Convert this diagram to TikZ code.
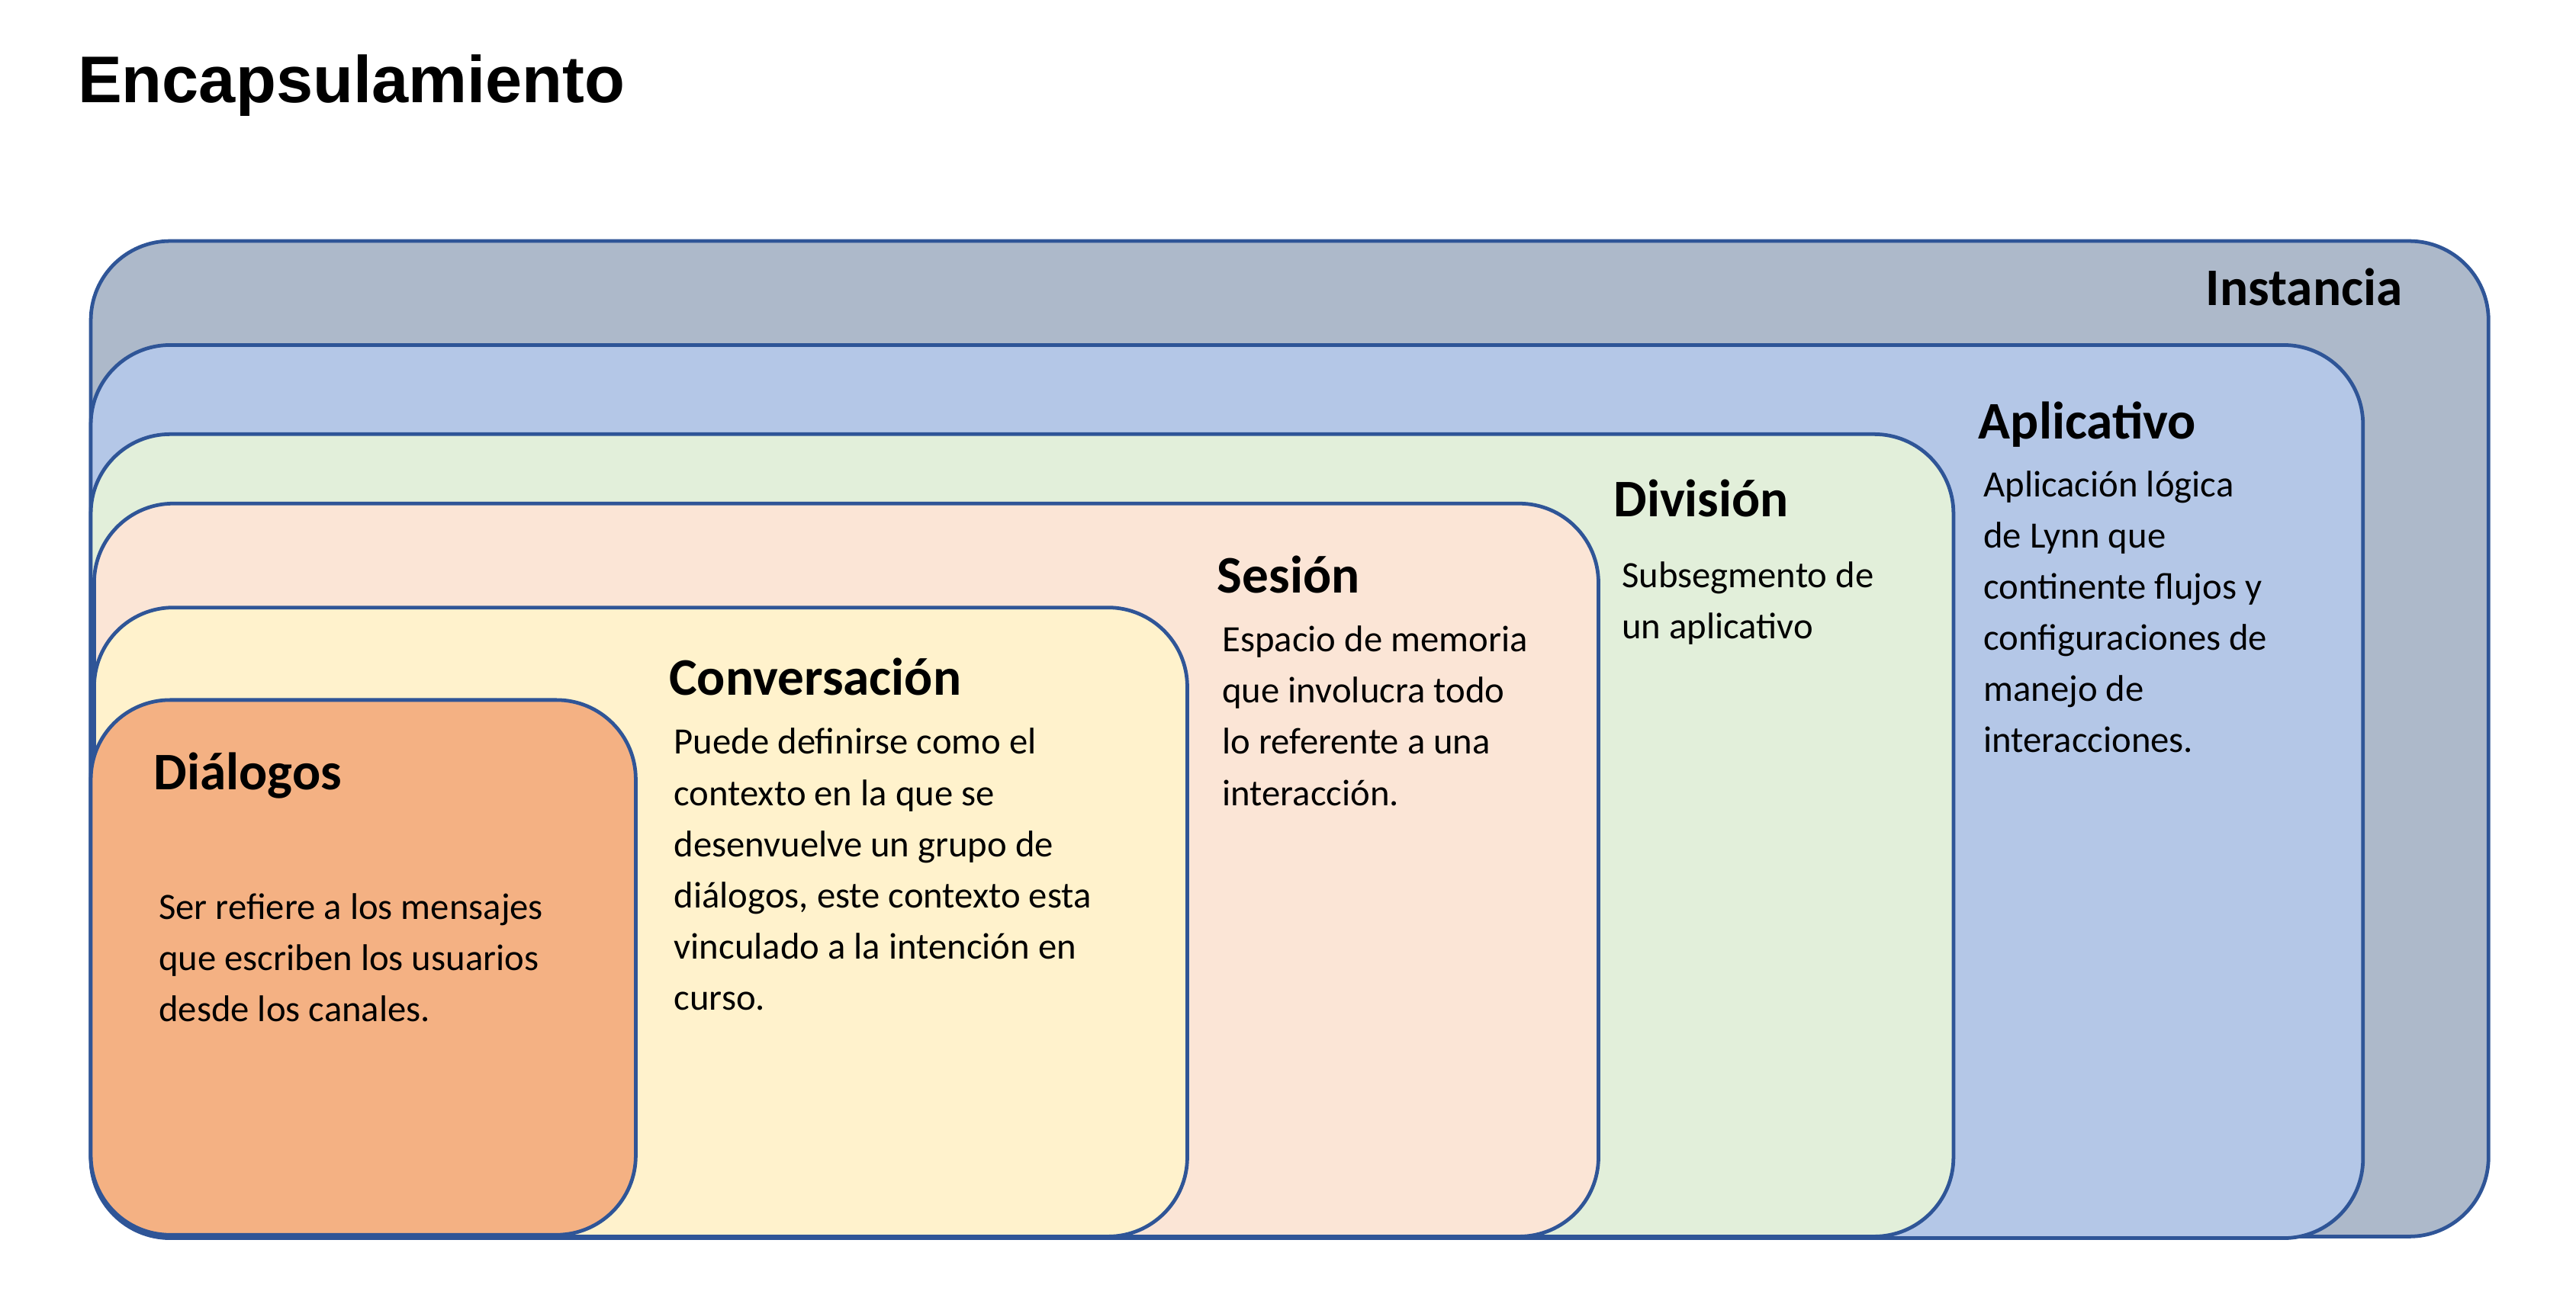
\documentclass[tikz,border=0pt]{standalone}
\usepackage{fontspec}
\setmainfont{Carlito}
\newfontfamily\titlefont{Liberation Sans}
\definecolor{edge}{HTML}{2F5597}
\definecolor{cinst}{HTML}{ADB9CA}
\definecolor{capl}{HTML}{B4C7E7}
\definecolor{cdiv}{HTML}{E2EFDA}
\definecolor{cses}{HTML}{FBE5D6}
\definecolor{cconv}{HTML}{FFF2CC}
\definecolor{cdial}{HTML}{F4B183}
\tikzset{
  layer/.style={draw=edge, line width=2.2pt, rounded corners=48pt},
  head/.style={font=\fontsize{32}{38}\selectfont\bfseries, inner sep=0pt},
  desc/.style={font=\fontsize{22.5}{31}\selectfont, align=left, anchor=north west, inner sep=0pt}
}
\begin{document}
\begin{tikzpicture}[x=1pt, y=-1pt]
  \useasboundingbox (0,0) rectangle (1560,788);
  \node[font=\titlefont\fontsize{40}{48}\selectfont\bfseries, anchor=west, inner sep=0pt] (title) at (47,52) {Encapsulamiento};
  % nested layers, outermost first
  \draw[layer, fill=cinst] (55,146) rectangle (1507,749);
  \draw[layer, fill=capl] (55,209) rectangle (1431,750);
  \draw[layer, fill=cdiv] (55,263) rectangle (1183,749);
  \draw[layer, fill=cses] (57,305) rectangle (968,749);
  \draw[layer, fill=cconv] (57,368) rectangle (719,749);
  \draw[layer, fill=cdial] (55,424) rectangle (385,748);
  % headings
  \node[head, anchor=east] (inst) at (1455,174) {Instancia};
  \node[head, anchor=west] (apl) at (1198,257) {Aplicativo};
  \node[head, anchor=west] (div) at (977,302) {División};
  \node[head, anchor=west] (ses) at (737,348) {Sesión};
  \node[head, anchor=west] (conv) at (405,410) {Conversación};
  \node[head, anchor=west] (dial) at (93,470) {Diálogos};
  % descriptions
  \node[desc] (apltext) at (1201,285) {Aplicación lógica\\de Lynn que\\continente flujos y\\configuraciones de\\manejo de\\interacciones.};
  \node[desc] (divtext) at (982,340) {Subsegmento de\\un aplicativo};
  \node[desc] (sestext) at (740,379) {Espacio de memoria\\que involucra todo\\lo referente a una\\interacción.};
  \node[desc] (convtext) at (408,441) {Puede definirse como el\\contexto en la que se\\desenvuelve un grupo de\\diálogos, este contexto esta\\vinculado a la intención en\\curso.};
  \node[desc] (dialtext) at (96,541) {Ser refiere a los mensajes\\que escriben los usuarios\\desde los canales.};
\end{tikzpicture}
\end{document}
